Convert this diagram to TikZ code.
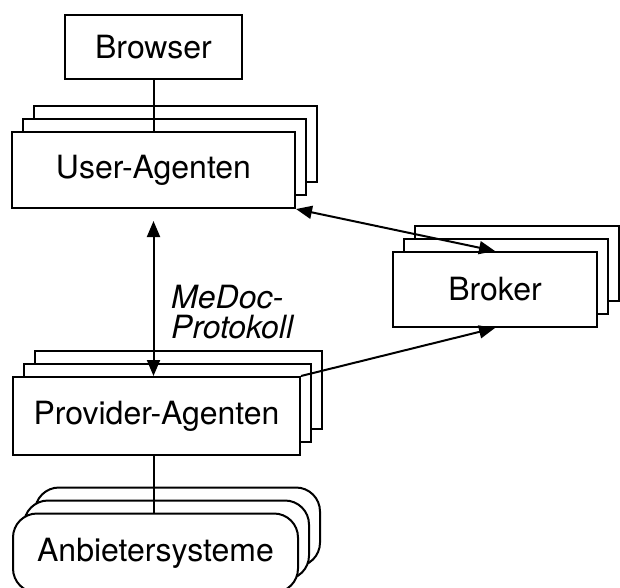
\documentclass[tikz,border=0pt]{standalone}
\usepackage{fontspec}
\setmainfont{TeX Gyre Heros}
\usetikzlibrary{arrows.meta,shadows}

\tikzset{
  box/.style={draw, fill=white, line width=2pt, inner sep=0pt},
  stack/.style={box,
    copy shadow={shadow xshift=22pt, shadow yshift=26pt},
    copy shadow={shadow xshift=11pt, shadow yshift=13pt}},
  link/.style={line width=2pt},
  tip/.style={link, -{Triangle[length=16pt,width=13pt]}},
  twotip/.style={link, {Triangle[length=16pt,width=13pt]}-{Triangle[length=16pt,width=13pt]}}
}

\begin{document}
\begin{tikzpicture}[x=1pt, y=-1pt, font=\fontsize{32}{30}\selectfont]
      \useasboundingbox (0,0) rectangle (620,587);
      \clip (0,0) rectangle (620,587);
      \node[box, minimum width=177pt, minimum height=64pt] (browser) at (153.5,47) {Browser};
      \node[stack, minimum width=283pt, minimum height=76pt] (user) at (153.5,170) {User-Agenten};
      \node[stack, minimum width=204pt, minimum height=75pt] (broker) at (495,289.5) {Broker};
      \node[stack, minimum width=287pt, minimum height=78pt] (provider) at (156.5,416) {Provider-Agenten};
      \node[stack, rounded corners=24pt, minimum width=285pt, minimum height=79pt] (anbieter) at (155.5,553) {Anbietersysteme};
      \node[anchor=west, align=left, inner sep=0pt, font=\fontsize{32}{30}\selectfont\itshape] (protokoll) at (171,312) {MeDoc-\\Protokoll};
      \begin{scope}
        \draw[link] (browser.south) -- (user.north);
        \draw[twotip] ([yshift=-12pt]user.south) -- (user.south |- provider.north);
        \draw[twotip] (user.south east) -- (broker.north);
        \draw[tip] (provider.north east) -- (broker.south);
        \draw[link] (provider.south -| user.south) -- (user.south |- anbieter.north);
      \end{scope}
    \end{tikzpicture}
\end{document}
